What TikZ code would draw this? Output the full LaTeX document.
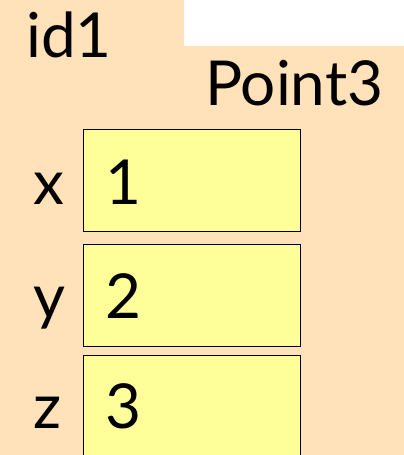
\documentclass[tikz,border=0pt]{standalone}
\usepackage{fontspec}
\setmainfont{Lato}
\definecolor{peach}{HTML}{FFE1BA}
\definecolor{valyellow}{HTML}{FFFF99}
\tikzset{
  valbox/.style={draw=black, fill=valyellow, line width=1.4pt, minimum width=217pt, minimum height=102pt, anchor=north west, inner sep=0pt},
  lbl/.style={anchor=base west, inner sep=0pt, font=\fontsize{62}{70}\selectfont}
}
\begin{document}
\begin{tikzpicture}[x=1pt,y=1pt]
\useasboundingbox (0,0) rectangle (404,-455);
\fill[peach] (0,0) rectangle (404,-455);
\fill[white] (184,0) rectangle (404,-45.5);
\node[lbl] (id) at (26,-57) {id1};
\node[lbl] (cls) at (205,-105) {Point3};
\node[valbox] (bx) at (83,-129) {};
\node[valbox] (by) at (83,-243.5) {};
\node[valbox] (bz) at (83,-355) {};
\node[lbl] (lx) at (33,-204) {x};
\node[lbl] (ly) at (33,-318) {y};
\node[lbl] (lz) at (33,-428) {z};
\node[lbl] (vx) at (105,-204) {1};
\node[lbl] (vy) at (105,-318) {2};
\node[lbl] (vz) at (105,-428) {3};
\end{tikzpicture}
\end{document}
